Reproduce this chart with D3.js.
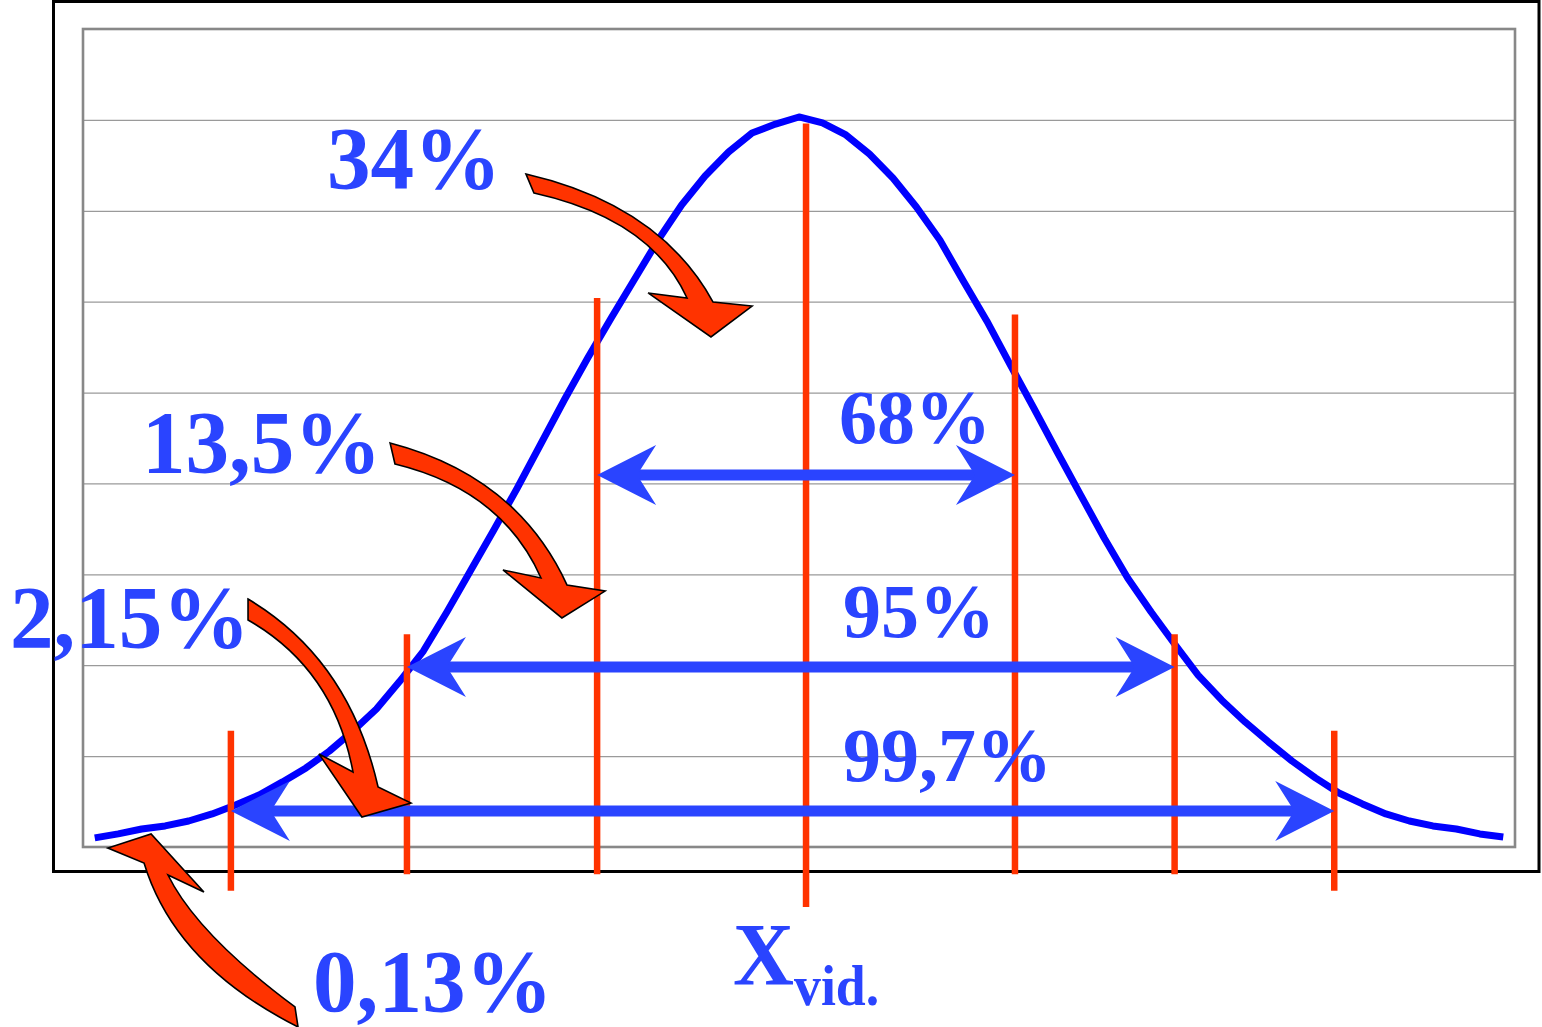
<!DOCTYPE html>
<html>
<head>
<meta charset="utf-8">
<script src="https://cdn.jsdelivr.net/npm/d3@7"></script>
<style>
  html, body { margin: 0; padding: 0; background: #ffffff; }
  svg { display: block; }
</style>
</head>
<body>
<svg id="chart" width="1542" height="1027"></svg>
<script>
// ---- Bell curve: density sampled every 0.1 sigma ----
const zValues = [
  -3.0,-2.9,-2.8,-2.7,-2.6,-2.5,-2.4,-2.3,-2.2,-2.1,
  -2.0,-1.9,-1.8,-1.7,-1.6,-1.5,-1.4,-1.3,-1.2,-1.1,
  -1.0,-0.9,-0.8,-0.7,-0.6,-0.5,-0.4,-0.3,-0.2,-0.1,
   0.0,
   0.1, 0.2, 0.3, 0.4, 0.5, 0.6, 0.7, 0.8, 0.9, 1.0,
   1.1, 1.2, 1.3, 1.4, 1.5, 1.6, 1.7, 1.8, 1.9, 2.0,
   2.1, 2.2, 2.3, 2.4, 2.5, 2.6, 2.7, 2.8, 2.9, 3.0
];
const density = [
  0.0050,0.0072,0.0099,0.0116,0.0143,0.0182,0.0231,0.0286,0.0358,0.0435,
  0.0528,0.0638,0.0759,0.0913,0.1078,0.1293,0.1518,0.1744,0.1975,0.2217,
  0.2459,0.2690,0.2910,0.3125,0.3339,0.3532,0.3691,0.3823,0.3928,0.3977,
  0.4016,
  0.3983,0.3917,0.3812,0.3680,0.3521,0.3339,0.3114,0.2894,0.2652,0.2415,
  0.2173,0.1936,0.1700,0.1480,0.1293,0.1117,0.0946,0.0809,0.0688,0.0578,
  0.0473,0.0380,0.0297,0.0237,0.0182,0.0143,0.0116,0.0099,0.0072,0.0055
];
const gridTicks = [0.05, 0.10, 0.15, 0.20, 0.25, 0.30, 0.35, 0.40];

// ---- Sigma marker lines (position on the z axis, top and bottom level) ----
const markerZ      = [-2.42, -1.67, -0.86, 0.03, 0.92, 1.60, 2.28];
const markerTop    = [0.064, 0.117, 0.302, 0.398, 0.293, 0.117, 0.064];
const markerBottom = [-0.024, -0.015, -0.015, -0.033, -0.015, -0.015, -0.024];

// ---- Coverage spans between marker pairs ----
const spanLabels  = ["68%", "95%", "99,7%"];
const spanFrom    = [2, 1, 0];
const spanTo      = [4, 5, 6];
const spanLevel   = [0.2046, 0.0990, 0.0198];
const spanLabelZ  = [0.170, 0.187, 0.187];
const spanLabelV  = [0.2222, 0.1155, 0.0363];

// ---- Share of each band, with curved pointers ----
const bandLabels = ["34%", "13,5%", "2,15%", "0,13%"];
const bandLabelZ = [-2.011, -2.799, -3.361, -2.070];
const bandLabelV = [0.3625, 0.2063, 0.1100, -0.0902];
// pointer outline: outer start, outer control, outer end, outer barb, tip,
// inner barb, inner end, inner control, inner start  — as [z, density]
const bandPointers = [
  [[-1.163,0.3702],[-0.592,0.3532],[-0.366,0.2998],[-0.200,0.2976],[-0.375,0.2806],
   [-0.643,0.3048],[-0.477,0.3020],[-0.630,0.3455],[-1.129,0.3598]],
  [[-1.742,0.2223],[-1.201,0.2041],[-0.988,0.1441],[-0.826,0.1408],[-1.010,0.1260],
   [-1.261,0.1524],[-1.099,0.1480],[-1.265,0.1964],[-1.721,0.2107]],
  [[-2.347,0.1364],[-1.917,0.1034],[-1.793,0.0330],[-1.653,0.0242],[-1.862,0.0165],
   [-2.045,0.0512],[-1.900,0.0413],[-1.981,0.0979],[-2.347,0.1249]],
  [[-2.134,-0.0990],[-2.658,-0.0649],[-2.790,-0.0088],[-2.944,-0.0006],[-2.760,0.0072],
   [-2.535,-0.0248],[-2.688,-0.0154],[-2.564,-0.0479],[-2.147,-0.0880]]
];

// ---- Mean label ----
const meanMain = "X";
const meanSub = "vid.";
const meanLabelZ = -0.281;
const meanLabelV = -0.0754;

// ================= drawing =================
const BLUE_TEXT = "#2a44ff";
const CURVE = "#0000ff";
const RED = "#ff3300";
const FONT = "'Liberation Serif', 'Times New Roman', serif";

const plot = { left: 83, right: 1515, top: 29, bottom: 847 };

const svg = d3.select("#chart");

const x = d3.scalePoint().domain(zValues).range([plot.left, plot.right]).padding(0.5);
const xz = d3.scaleLinear().domain([-3, 3]).range([x(-3), x(3)]);
const y = d3.scaleLinear().domain([0, 0.45]).range([plot.bottom, plot.top]);

// outer frame
svg.append("rect")
  .attr("x", 53.5).attr("y", 1.5)
  .attr("width", 1539 - 53.5).attr("height", 871.5 - 1.5)
  .attr("fill", "#ffffff").attr("stroke", "#000000").attr("stroke-width", 3);

// plot area
svg.append("rect")
  .attr("x", plot.left).attr("y", plot.top)
  .attr("width", plot.right - plot.left).attr("height", plot.bottom - plot.top)
  .attr("fill", "#ffffff");

// horizontal gridlines
const grid = svg.append("g")
  .attr("transform", `translate(${plot.left},0)`)
  .call(d3.axisLeft(y).tickValues(gridTicks).tickSize(-(plot.right - plot.left)).tickFormat(""));
grid.select(".domain").remove();
grid.selectAll(".tick line").attr("stroke", "#9a9a9a").attr("stroke-width", 1.2);

// plot border
svg.append("rect")
  .attr("x", plot.left).attr("y", plot.top)
  .attr("width", plot.right - plot.left).attr("height", plot.bottom - plot.top)
  .attr("fill", "none").attr("stroke", "#888888").attr("stroke-width", 2.6);

// bell curve
const curveData = zValues.map((z, i) => ({ z, v: density[i] }));
svg.append("path")
  .datum(curveData)
  .attr("fill", "none")
  .attr("stroke", CURVE)
  .attr("stroke-width", 7)
  .attr("stroke-linejoin", "round")
  .attr("d", d3.line().x(d => x(d.z)).y(d => y(d.v)));

// sigma markers
svg.append("g").selectAll("line")
  .data(markerZ)
  .join("line")
  .attr("x1", d => xz(d)).attr("x2", d => xz(d))
  .attr("y1", (d, i) => y(markerTop[i]))
  .attr("y2", (d, i) => y(markerBottom[i]))
  .attr("stroke", RED).attr("stroke-width", 6.5);

// coverage double arrows
const HEAD_LEN = 59, HEAD_HALF = 30, NOTCH = 40, SHAFT = 11;
const spans = svg.append("g");
spanLabels.forEach((lab, i) => {
  const x1 = xz(markerZ[spanFrom[i]]);
  const x2 = xz(markerZ[spanTo[i]]);
  const yy = y(spanLevel[i]);
  spans.append("line")
    .attr("x1", x1 + NOTCH - 2).attr("x2", x2 - NOTCH + 2)
    .attr("y1", yy).attr("y2", yy)
    .attr("stroke", BLUE_TEXT).attr("stroke-width", SHAFT);
  const head = (tx, dir) => {
    const p = d3.path();
    p.moveTo(tx, yy);
    p.lineTo(tx - dir * HEAD_LEN, yy - HEAD_HALF);
    p.lineTo(tx - dir * NOTCH, yy);
    p.lineTo(tx - dir * HEAD_LEN, yy + HEAD_HALF);
    p.closePath();
    return p.toString();
  };
  spans.append("path").attr("d", head(x2, 1)).attr("fill", BLUE_TEXT);
  spans.append("path").attr("d", head(x1, -1)).attr("fill", BLUE_TEXT);
});

// curved band pointers
const pointers = svg.append("g");
bandPointers.forEach(pts => {
  const P = pts.map(([z, v]) => [xz(z), y(v)]);
  const p = d3.path();
  p.moveTo(P[0][0], P[0][1]);
  p.quadraticCurveTo(P[1][0], P[1][1], P[2][0], P[2][1]);
  p.lineTo(P[3][0], P[3][1]);
  p.lineTo(P[4][0], P[4][1]);
  p.lineTo(P[5][0], P[5][1]);
  p.lineTo(P[6][0], P[6][1]);
  p.quadraticCurveTo(P[7][0], P[7][1], P[8][0], P[8][1]);
  p.closePath();
  pointers.append("path")
    .attr("d", p.toString())
    .attr("fill", RED)
    .attr("stroke", "#000000")
    .attr("stroke-width", 1.6)
    .attr("stroke-linejoin", "miter");
});

// labels
const labels = svg.append("g")
  .attr("font-family", FONT)
  .attr("font-weight", "bold")
  .attr("fill", BLUE_TEXT);

bandLabels.forEach((t, i) => {
  labels.append("text")
    .attr("transform", `translate(${xz(bandLabelZ[i])},${y(bandLabelV[i])}) scale(0.99,1)`)
    .attr("font-size", 88)
    .text(t);
});

spanLabels.forEach((t, i) => {
  labels.append("text")
    .attr("transform", `translate(${xz(spanLabelZ[i])},${y(spanLabelV[i])})`)
    .attr("font-size", 76)
    .text(t);
});

const mean = labels.append("text")
  .attr("transform", `translate(${xz(meanLabelZ)},${y(meanLabelV)}) scale(0.96,1)`);
mean.append("tspan").attr("font-size", 88).text(meanMain);
mean.append("tspan").attr("font-size", 56).attr("dy", 21).text(meanSub);
</script>
</body>
</html>
